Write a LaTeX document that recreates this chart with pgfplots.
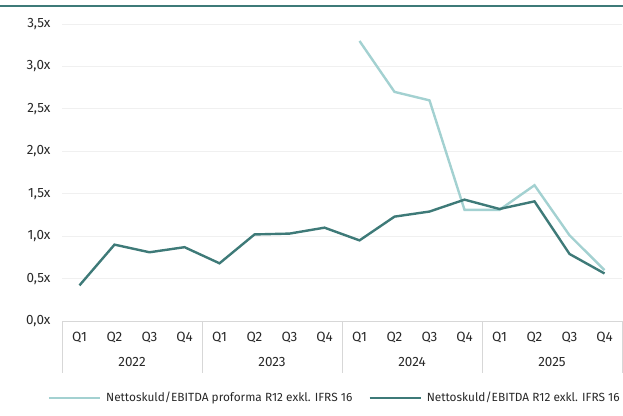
\documentclass[border=0pt]{standalone}
\usepackage{pgfplots}
\pgfplotsset{compat=1.18}
\usepackage{fontspec}
\setmainfont{Fira Sans}
\definecolor{darkteal}{RGB}{62,122,120}
\definecolor{lightteal}{RGB}{163,209,209}
\definecolor{gridgray}{RGB}{240,240,240}
\definecolor{axisgray}{RGB}{215,215,215}
\definecolor{txt}{RGB}{40,40,40}
\begin{document}
\begin{tikzpicture}[x=1bp,y=1bp]
\useasboundingbox (0,0) rectangle (623,415);
\draw[darkteal,line width=2.6bp] (0,409) -- (623,409);
\begin{axis}[
  at={(62bp,94bp)}, anchor=south west,
  scale only axis, width=560bp, height=297bp,
  xmin=-0.5, xmax=15.5, ymin=0, ymax=3.5,
  axis line style={draw=none},
  xtick={0,...,15},
  xticklabels={Q1,Q2,Q3,Q4,Q1,Q2,Q3,Q4,Q1,Q2,Q3,Q4,Q1,Q2,Q3,Q4},
  ytick={0,0.5,...,3.5},
  yticklabels={{0,0x},{0,5x},{1,0x},{1,5x},{2,0x},{2,5x},{3,0x},{3,5x}},
  ymajorgrids, grid style={gridgray,line width=0.8bp},
  major tick length=0pt,
  tick label style={font=\fontsize{13.5}{15}\selectfont, text=txt},
  yticklabel style={anchor=east, xshift=-8bp},
  xticklabel style={anchor=center, yshift=-16bp},
  clip=false,
  legend columns=2,
  legend style={at={(0.487,-0.259)}, anchor=center, draw=none, fill=none,
    font=\fontsize{11.9}{13}\selectfont, text=txt,
    /tikz/every odd column/.append style={column sep=3bp},
    /tikz/every even column/.append style={column sep=14bp}},
  legend image code/.code={\draw[#1] (0bp,0bp) -- (51bp,0bp);},
]
\addplot[lightteal, line width=2.4bp] coordinates {
 (8,3.30) (9,2.70) (10,2.60) (11,1.31) (12,1.31) (13,1.60) (14,1.01) (15,0.60)};
\addlegendentry{Nettoskuld/EBITDA proforma R12 exkl. IFRS 16}
\addplot[darkteal, line width=2.4bp] coordinates {
 (0,0.42) (1,0.90) (2,0.81) (3,0.87) (4,0.68) (5,1.02) (6,1.03) (7,1.10)
 (8,0.95) (9,1.23) (10,1.29) (11,1.43) (12,1.32) (13,1.41) (14,0.79) (15,0.56)};
\addlegendentry{Nettoskuld/EBITDA R12 exkl. IFRS 16}
\draw[axisgray,line width=1bp] (axis cs:-0.5,0) -- (axis cs:15.5,0);
\pgfplotsinvokeforeach{-0.5,3.5,7.5,11.5,15.5}{
  \draw[axisgray,line width=1bp] (axis cs:#1,0) -- ([yshift=-52bp]axis cs:#1,0);
}
\node[font=\fontsize{13.5}{15}\selectfont, text=txt] at ([yshift=-41bp]axis cs:1.5,0) {2022};
\node[font=\fontsize{13.5}{15}\selectfont, text=txt] at ([yshift=-41bp]axis cs:5.5,0) {2023};
\node[font=\fontsize{13.5}{15}\selectfont, text=txt] at ([yshift=-41bp]axis cs:9.5,0) {2024};
\node[font=\fontsize{13.5}{15}\selectfont, text=txt] at ([yshift=-41bp]axis cs:13.5,0) {2025};
\end{axis}
\end{tikzpicture}
\end{document}
